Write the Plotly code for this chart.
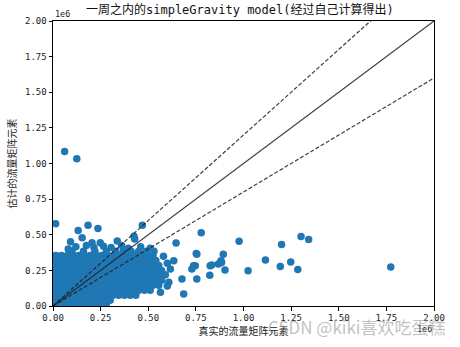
import plotly.graph_objects as go

# ---------------- data (values in units of 1e6) ----------------
# dense cloud: row heights (estimated) and the x positions read along each row
cloud_row_y = [0.005, 0.04, 0.075, 0.11, 0.145, 0.18, 0.215, 0.25, 0.285, 0.32, 0.355, 0.385]
cloud_row_x = [
    [0.01, 0.04, 0.07, 0.10, 0.13, 0.16, 0.19, 0.22, 0.25, 0.28],
    [0.00, 0.03, 0.06, 0.09, 0.12, 0.15, 0.18, 0.21, 0.24, 0.27, 0.30],
    [0.015, 0.045, 0.075, 0.105, 0.135, 0.165, 0.195, 0.225, 0.255, 0.285, 0.315, 0.345, 0.375, 0.405, 0.435],
    [0.00, 0.03, 0.06, 0.09, 0.12, 0.15, 0.18, 0.21, 0.24, 0.27, 0.30, 0.33, 0.36, 0.39, 0.42, 0.45, 0.48, 0.51],
    [0.015, 0.045, 0.075, 0.105, 0.135, 0.165, 0.195, 0.225, 0.255, 0.285, 0.315, 0.345, 0.375, 0.405, 0.435, 0.465, 0.495, 0.525, 0.555],
    [0.00, 0.03, 0.06, 0.09, 0.12, 0.15, 0.18, 0.21, 0.24, 0.27, 0.30, 0.33, 0.36, 0.39, 0.42, 0.45, 0.48, 0.51, 0.54, 0.57],
    [0.015, 0.045, 0.075, 0.105, 0.135, 0.165, 0.195, 0.225, 0.255, 0.285, 0.315, 0.345, 0.375, 0.405, 0.435, 0.465, 0.495, 0.525, 0.555],
    [0.00, 0.03, 0.06, 0.09, 0.12, 0.15, 0.18, 0.21, 0.24, 0.27, 0.30, 0.33, 0.36, 0.39, 0.42, 0.45, 0.48, 0.51, 0.54, 0.57],
    [0.015, 0.045, 0.075, 0.105, 0.135, 0.165, 0.195, 0.225, 0.255, 0.285, 0.315, 0.345, 0.375, 0.405, 0.435, 0.465, 0.495, 0.525, 0.555],
    [0.00, 0.03, 0.06, 0.09, 0.12, 0.15, 0.18, 0.21, 0.24, 0.27, 0.30, 0.33, 0.36, 0.39, 0.42, 0.45, 0.48, 0.51, 0.54],
    [0.015, 0.045, 0.075, 0.105, 0.135, 0.165, 0.195, 0.225, 0.255, 0.285, 0.315, 0.345, 0.375, 0.405, 0.435, 0.465, 0.495, 0.525],
    [0.10, 0.16, 0.22, 0.28, 0.33, 0.37, 0.41, 0.45, 0.49, 0.53],
]

# individually visible points (including the ragged upper edge of the cloud)
single_x = [0.061, 0.125, 0.014, 0.132, 0.184, 0.236, 0.092, 0.153, 0.205, 0.248, 0.337, 0.425,
            0.469, 0.429, 0.646, 0.778, 0.755, 0.738, 0.755, 0.825, 0.823, 0.686, 0.564, 0.608,
            0.616, 0.634, 0.677, 0.747, 0.729, 0.894, 0.882, 0.903, 0.977, 1.024, 1.115, 1.193,
            1.200, 1.248, 1.285, 1.302, 1.342, 1.773, 0.752, 0.868, 0.885, 0.833, 0.600, 0.590,
            0.600, 0.580,
            0.120, 0.175, 0.265, 0.305, 0.360, 0.395, 0.460, 0.510, 0.215, 0.080]
single_y = [1.085, 1.033, 0.578, 0.530, 0.567, 0.544, 0.451, 0.479, 0.444, 0.444, 0.456, 0.490,
            0.567, 0.470, 0.442, 0.514, 0.363, 0.283, 0.190, 0.283, 0.215, 0.085, 0.097, 0.167,
            0.259, 0.317, 0.190, 0.283, 0.259, 0.363, 0.317, 0.252, 0.454, 0.248, 0.322, 0.278,
            0.431, 0.308, 0.257, 0.488, 0.467, 0.273, 0.368, 0.294, 0.306, 0.287, 0.300, 0.220,
            0.140, 0.350,
            0.415, 0.425, 0.420, 0.410, 0.425, 0.405, 0.415, 0.405, 0.410, 0.400]

# reference lines: slope of each line
ref_slopes = [1.0, 1.2, 0.8]
ref_dash = ["solid", "4px,2px", "4px,2px"]
line_x = [0.0, 2.0]

tick_vals = [0.0, 0.25, 0.5, 0.75, 1.0, 1.25, 1.5, 1.75, 2.0]
tick_text = ["0.00", "0.25", "0.50", "0.75", "1.00", "1.25", "1.50", "1.75", "2.00"]

title_text = "一周之内的simpleGravity model(经过自己计算得出)"
x_title = "真实的流量矩阵元素"
y_title = "估计的流量矩阵元素"
offset_text = "1e6"
watermark = "CSDN @kiki喜欢吃蛋糕"

# ---------------- figure ----------------
pts_x, pts_y = [], []
for yv, xs in zip(cloud_row_y, cloud_row_x):
    for xv in xs:
        pts_x.append(xv)
        pts_y.append(yv)
pts_x += single_x
pts_y += single_y

MONO = "DejaVu Sans Mono, Noto Sans CJK SC, sans-serif"
CJK = "Noto Sans CJK SC, sans-serif"

fig = go.Figure()
fig.add_trace(go.Scatter(
    x=pts_x, y=pts_y, mode="markers",
    marker=dict(color="#1f77b4", size=7.5, line=dict(width=0)),
    showlegend=False, hoverinfo="skip"))

for s, d in zip(ref_slopes, ref_dash):
    fig.add_trace(go.Scatter(
        x=line_x, y=[v * s for v in line_x], mode="lines",
        line=dict(color="rgba(30,30,30,0.85)", width=1.2, dash=d),
        showlegend=False, hoverinfo="skip"))

axis_common = dict(
    range=[0, 2], showgrid=False, zeroline=False,
    showline=True, linecolor="black", linewidth=1, mirror=True,
    ticks="outside", ticklen=3.5, tickwidth=1, tickcolor="black",
    tickvals=tick_vals, ticktext=tick_text,
    tickfont=dict(family=MONO, size=9, color="#222"),
)

fig.update_layout(
    width=460, height=347,
    margin=dict(l=50, r=26, t=21, b=38),
    paper_bgcolor="white", plot_bgcolor="white",
    xaxis=dict(**axis_common,
               title=dict(text=x_title, font=dict(family=CJK, size=10, color="#222"), standoff=5)),
    yaxis=dict(**axis_common,
               title=dict(text=y_title, font=dict(family=CJK, size=10, color="#222"), standoff=6)),
    annotations=[
        dict(text=title_text, xref="paper", yref="paper", x=0.49, y=1, xanchor="center",
             yanchor="bottom", yshift=2, showarrow=False,
             font=dict(family=MONO, size=12, color="#111")),
        dict(text=offset_text, xref="paper", yref="paper", x=0, y=1, xanchor="left",
             yanchor="bottom", yshift=0, showarrow=False,
             font=dict(family=MONO, size=8.5, color="#222")),
        dict(text=offset_text, xref="paper", yref="paper", x=1, y=0, xanchor="right",
             yanchor="top", yshift=-16, showarrow=False,
             font=dict(family=MONO, size=8.5, color="#222")),
        dict(text=watermark, xref="paper", yref="paper", x=1, y=0, xanchor="right",
             yanchor="top", xshift=14, yshift=-6, showarrow=False,
             font=dict(family=CJK, size=17, color="rgba(140,140,140,0.55)")),
    ],
)

fig.write_html("out.html")
